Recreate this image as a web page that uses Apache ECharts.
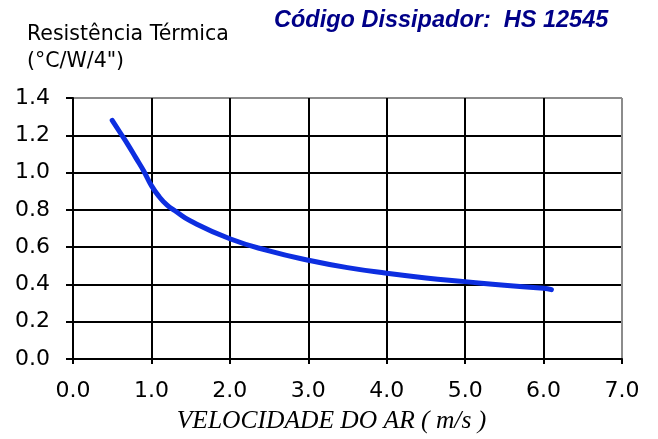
<!DOCTYPE html>
<html>
<head>
<meta charset="utf-8">
<script src="https://cdn.jsdelivr.net/npm/echarts@6/dist/echarts.min.js"></script>
<style>
  html, body { margin: 0; padding: 0; background: #fff; }
  #chart { width: 658px; height: 439px; }
</style>
</head>
<body>
<div id="chart"></div>
<script>
// Air velocity (m/s) and thermal resistance (°C/W/4")
const velocity = [0.5, 0.6, 0.7, 0.8, 0.9, 1.0, 1.1, 1.2, 1.3, 1.5, 2.0, 2.5, 3.0, 3.5, 4.0, 4.5, 5.0, 5.5, 6.0, 6.1];
const resistance = [1.28, 1.215, 1.15, 1.08, 1.01, 0.93, 0.87, 0.825, 0.795, 0.74, 0.645, 0.58, 0.53, 0.49, 0.46, 0.435, 0.415, 0.395, 0.38, 0.372];

const xTicks = ['0.0', '1.0', '2.0', '3.0', '4.0', '5.0', '6.0', '7.0'];
const yTicks = ['0.0', '0.2', '0.4', '0.6', '0.8', '1.0', '1.2', '1.4'];

const titleText = 'Código Dissipador:  HS 12545';
const yNameLines = ['Resistência Térmica', '(°C/W/4")'];
const xName = 'VELOCIDADE DO AR ( m/s )';

// the last split line in each direction is the lighter frame edge
const gridColors = ['#000', '#000', '#000', '#000', '#000', '#000', '#000', '#8c8c8c'];
const tickFont = 'DejaVu Sans';

const chart = echarts.init(document.getElementById('chart'), null, { renderer: 'canvas' });

chart.setOption({
  animation: false,
  backgroundColor: '#fff',
  title: [
    {
      text: titleText,
      left: 269, top: 4,
      textStyle: { fontFamily: 'Liberation Sans', fontStyle: 'italic', fontWeight: 'bold', fontSize: 23.5, color: '#000088' }
    },
    {
      text: yNameLines.join('\n'),
      left: 22, top: 16,
      textStyle: { fontFamily: tickFont, fontWeight: 'normal', fontSize: 20.5, color: '#000', lineHeight: 27 }
    }
  ],
  grid: { left: 73, top: 98, width: 549, height: 263, show: false },
  xAxis: {
    type: 'value',
    min: 0, max: 7, interval: 1,
    name: xName,
    nameLocation: 'middle',
    nameGap: 49,
    nameTextStyle: {
      fontFamily: 'Liberation Serif', fontStyle: 'italic', fontSize: 25.5, color: '#000',
      padding: [0, 32, 0, 0]
    },
    axisLine: { show: true, lineStyle: { color: '#000', width: 2 } },
    axisTick: { show: true, length: 5, lineStyle: { color: '#000', width: 2 } },
    axisLabel: {
      margin: 21, fontFamily: tickFont, fontSize: 22, color: '#000',
      formatter: (v) => xTicks[Math.round(v)]
    },
    splitLine: { show: true, lineStyle: { color: gridColors, width: 2 } }
  },
  yAxis: {
    type: 'value',
    min: 0, max: 1.4, interval: 0.2,
    axisLine: { show: true, lineStyle: { color: '#000', width: 2 } },
    axisTick: { show: true, length: 7, lineStyle: { color: '#000', width: 2 } },
    axisLabel: {
      margin: 23, fontFamily: tickFont, fontSize: 22, color: '#000',
      formatter: (v) => yTicks[Math.round(v / 0.2)]
    },
    splitLine: { show: true, lineStyle: { color: gridColors, width: 2 } }
  },
  series: [{
    type: 'line',
    data: velocity.map((v, i) => [v, resistance[i]]),
    smooth: 0.5,
    showSymbol: false,
    lineStyle: { color: '#0d2ee0', width: 5, cap: 'round' }
  }]
});
</script>
</body>
</html>
